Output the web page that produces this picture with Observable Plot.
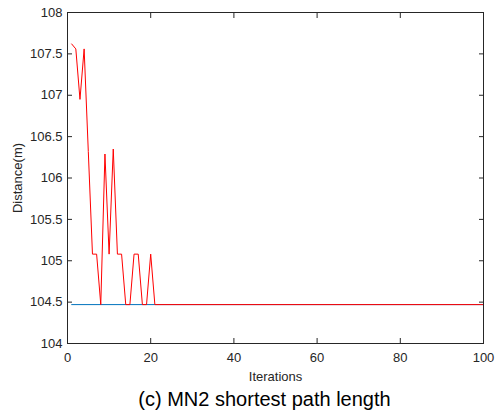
<!DOCTYPE html>
<html><head><meta charset="utf-8">
<script src="https://cdn.jsdelivr.net/npm/d3@7"></script>
<script src="https://cdn.jsdelivr.net/npm/@observablehq/plot@0.6"></script>
<style>
body{margin:0;background:#fff;}
#chart{width:496px;}
.cap{font-family:"Liberation Sans",Arial,sans-serif;font-size:20px;color:#000;text-align:center;line-height:26px;padding-left:33px;width:463px;}
</style></head><body><div id="chart"></div><div class="cap" id="cap"></div><script>
const iterations = [1,2,3,4,5,6,7,8,9,10,11,12,13,14,15,16,17,18,19,20,21,100];
const distance = [107.62,107.56,106.95,107.56,106.32,105.08,105.08,104.47,106.29,105.08,106.35,105.08,105.08,104.47,104.47,105.08,105.08,104.47,104.47,105.08,104.47,104.47];
const bestIterations = [1,100];
const bestDistance = [104.47,104.47];
const xTicks = [0,20,40,60,80,100];
const yTicks = [104,104.5,105,105.5,106,106.5,107,107.5,108];
const xLabel = "Iterations";
const yLabel = "Distance(m)";
const caption = "(c) MN2 shortest path length";

const red = iterations.map((x,i)=>({x, y: distance[i]}));
const blue = bestIterations.map((x,i)=>({x, y: bestDistance[i]}));
const ink = "#262626";
const chart = Plot.plot({
  width: 496, height: 386,
  marginLeft: 67, marginRight: 13, marginTop: 12, marginBottom: 43,
  style: {fontFamily: '"Liberation Sans", Arial, sans-serif', fontSize: "13px", color: ink, background: "#fff"},
  x: {domain: [0,100]},
  y: {domain: [104,108]},
  marks: [
    Plot.line(blue, {x:"x", y:"y", stroke:"#0072BD", strokeWidth:1}),
    Plot.line(red, {x:"x", y:"y", stroke:"#FF0000", strokeWidth:1}),
    Plot.frame({stroke: ink}),
    Plot.axisX({anchor:"bottom", ticks: xTicks, tickSize:-5, tickPadding:14, stroke: ink, fontSize: 13,
      label: xLabel, labelAnchor:"center", labelArrow:"none", labelOffset: 37}),
    Plot.axisX({anchor:"top", ticks: xTicks, tickSize:-5, tickFormat: () => "", stroke: ink, label: null}),
    Plot.axisY({anchor:"left", ticks: yTicks, tickSize:-5, tickPadding:10, stroke: ink, fontSize: 13,
      tickFormat: d => String(d),
      label: yLabel, labelAnchor:"center", labelArrow:"none", labelOffset: 55}),
    Plot.axisY({anchor:"right", ticks: yTicks, tickSize:-5, tickFormat: () => "", stroke: ink, label: null})
  ]
});
document.getElementById("chart").appendChild(chart);
document.getElementById("cap").textContent = caption;
</script></body></html>
